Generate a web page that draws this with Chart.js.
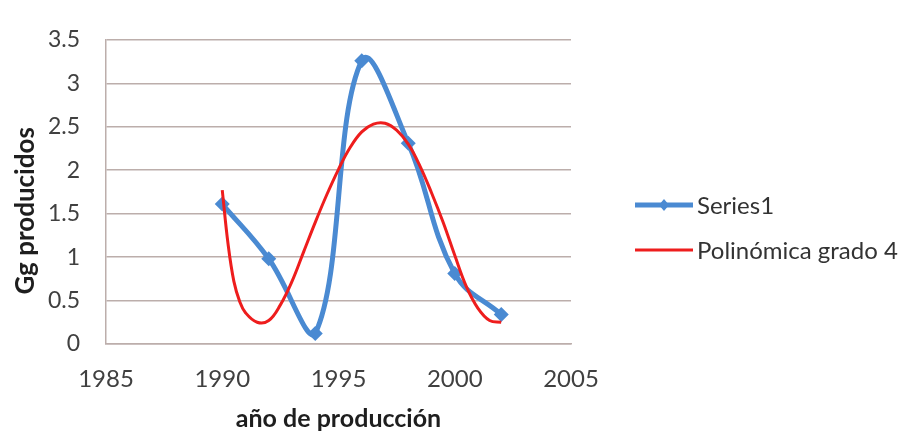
<!DOCTYPE html>
<html>
<head>
<meta charset="utf-8">
<script src="https://cdn.jsdelivr.net/npm/chart.js@4.4.0/dist/chart.umd.min.js"></script>
<style>
  html, body { margin: 0; background: #fff; }
  #wrap { width: 910px; height: 434px; }
</style>
</head>
<body>
<div id="wrap"><canvas id="chart"></canvas></div>
<script>
// measured series (year -> Gg)
const years = [1990, 1992, 1994, 1996, 1998, 2000, 2002];
const produced = [1.61, 0.98, 0.12, 3.26, 2.31, 0.81, 0.34];

// 4th degree trend line (denser where it drops fast)
const trendYears = [1990, 1990.25, 1990.5, 1990.75, 1991, 1991.5, 1992, 1992.5, 1993, 1993.5, 1994, 1994.5, 1995, 1995.5,
    1996, 1996.5, 1997, 1997.5, 1998, 1998.5, 1999, 1999.5, 2000, 2000.5, 2001, 2001.5, 2002];
const trendValues = [1.77, 1.15, 0.72, 0.49, 0.36, 0.25, 0.27, 0.45, 0.72, 1.06, 1.40, 1.72, 2.01, 2.26,
    2.44, 2.53, 2.54, 2.46, 2.30, 2.05, 1.74, 1.40, 1.02, 0.66, 0.41, 0.27, 0.25];

const seriesLabels = ['Series1', 'Polinómica grado 4'];
const xTitle = 'año de producción';
const yTitle = 'Gg producidos';

const blue = '#4a8ad2';
const red = '#ee1d1d';
const gridColor = '#bcaeab';
const font = 'Lato';

const toPoints = (xs, ys) => xs.map((x, i) => ({ x: x, y: ys[i] }));

// legend drawn at the right like the excel one (line + marker + text)
const sideLegend = {
    id: 'sideLegend',
    afterDraw(chart) {
        const ctx = chart.ctx;
        const left = chart.chartArea.right + 64;
        const lineW = 58;
        const rows = [205, 250];
        ctx.save();
        chart.data.datasets.forEach((ds, i) => {
            const y = rows[i];
            ctx.strokeStyle = ds.borderColor;
            ctx.lineWidth = ds.borderWidth;
            ctx.beginPath();
            ctx.moveTo(left, y);
            ctx.lineTo(left + lineW, y);
            ctx.stroke();
            if (ds.pointRadius > 0) {
                const cx = left + lineW / 2;
                ctx.fillStyle = ds.backgroundColor;
                ctx.beginPath();
                ctx.moveTo(cx, y - 6);
                ctx.lineTo(cx + 5, y);
                ctx.lineTo(cx, y + 6);
                ctx.lineTo(cx - 5, y);
                ctx.closePath();
                ctx.fill();
            }
            ctx.fillStyle = '#333';
            ctx.font = `24px ${font}`;
            ctx.textBaseline = 'middle';
            ctx.textAlign = 'left';
            ctx.fillText(ds.label, left + lineW + 4, y + 1);
        });
        ctx.restore();
    }
};

new Chart(document.getElementById('chart'), {
    type: 'scatter',
    data: {
        datasets: [{
            label: seriesLabels[0],
            data: toPoints(years, produced),
            showLine: true,
            tension: 0.4,
            borderColor: blue,
            backgroundColor: blue,
            borderWidth: 5,
            pointStyle: 'rectRot',
            pointRadius: 7.5,
            pointBorderWidth: 0,
            order: 1
        }, {
            label: seriesLabels[1],
            data: toPoints(trendYears, trendValues),
            showLine: true,
            tension: 0.4,
            borderColor: red,
            backgroundColor: red,
            borderWidth: 3,
            pointRadius: 0,
            order: 0
        }]
    },
    options: {
        responsive: true,
        maintainAspectRatio: false,
        animation: false,
        events: [],
        layout: { padding: { top: 18, right: 339, left: 0, bottom: 0 } },
        plugins: {
            legend: { display: false },
            tooltip: { enabled: false }
        },
        scales: {
            x: {
                type: 'linear',
                min: 1985,
                max: 2005,
                afterFit: (scale) => { scale.height = 90; },
                grid: { display: false, drawTicks: false },
                border: { display: true, color: gridColor, width: 1.5 },
                ticks: {
                    stepSize: 5,
                    padding: 21,
                    color: '#404040',
                    font: { family: font, size: 24 },
                    callback: (v) => String(v)
                },
                title: {
                    display: true,
                    text: xTitle,
                    color: '#1e1e1e',
                    font: { family: font, size: 25, weight: 'bold' },
                    padding: { top: 0, bottom: 0 }
                }
            },
            y: {
                min: 0,
                max: 3.5,
                afterFit: (scale) => { scale.width = 106; },
                grid: { color: gridColor, lineWidth: 1.5, drawTicks: false },
                border: { display: true, color: gridColor, width: 1.5 },
                ticks: {
                    stepSize: 0.5,
                    padding: 26,
                    color: '#404040',
                    font: { family: font, size: 23 },
                    callback: (v) => String(v)
                },
                title: {
                    display: true,
                    // trailing spaces push the title a bit lower, as in the original
                    text: yTitle + '      ',
                    color: '#1e1e1e',
                    font: { family: font, size: 26, weight: 'bold' },
                    padding: { top: 10, bottom: 0 }
                }
            }
        }
    },
    plugins: [sideLegend]
});
</script>
</body>
</html>
